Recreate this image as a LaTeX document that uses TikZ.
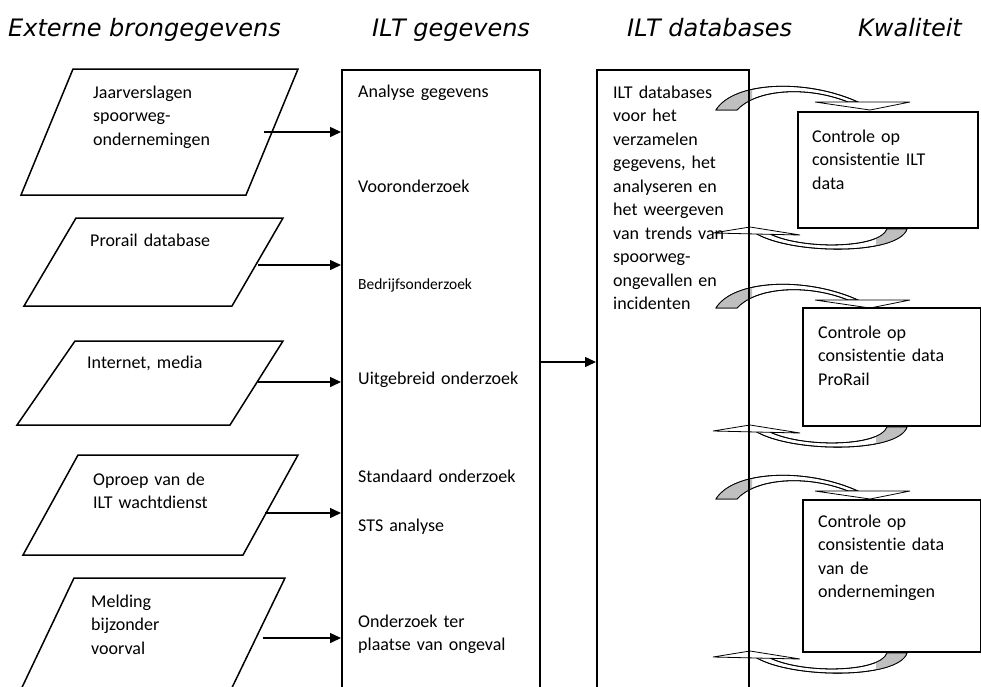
\documentclass[tikz,border=0pt]{standalone}
\usepackage{fontspec}
\setmainfont{Carlito}[Ligatures=NoCommon,WordSpace=0.85]
\newfontfamily\titlefont{DejaVu Sans}
\usetikzlibrary{arrows.meta}
\newcommand\qtoparrow[1]{%
\begin{scope}[shift={(0,#1)}]
  \path[ribbon] (716,110) .. controls (733,82) and (805,78) .. (858,102) -- (848,102) .. controls (805,85) and (755,90) .. (737,110) -- cycle;
  \begin{scope}
    \clip (700,70) rectangle (752,115);
    \fill[ribbongray] (716,110) .. controls (733,82) and (805,78) .. (858,102) -- (848,102) .. controls (805,85) and (755,90) .. (737,110) -- cycle;
  \end{scope}
  \draw[ribbonline] (716,110) .. controls (733,82) and (805,78) .. (858,102) -- (848,102) .. controls (805,85) and (755,90) .. (737,110) -- cycle;
  \draw[ribbon] (815,102) -- (910,102) -- (870,110) -- cycle;
\end{scope}}
\newcommand\qbotarrow[1]{%
\begin{scope}[shift={(0,#1)}]
  \path[ribbon] (907,229) .. controls (898,256) and (785,255) .. (752,231) -- (768,233) .. controls (800,250) and (880,249) .. (887,229) -- cycle;
  \begin{scope}
    \clip (876,220) rectangle (915,260);
    \fill[ribbongray] (907,229) .. controls (898,256) and (785,255) .. (752,231) -- (768,233) .. controls (800,250) and (880,249) .. (887,229) -- cycle;
  \end{scope}
  \draw[ribbonline] (907,229) .. controls (898,256) and (785,255) .. (752,231) -- (768,233) .. controls (800,250) and (880,249) .. (887,229) -- cycle;
  \draw[ribbon] (713,233) -- (750,227) -- (800,235) -- cycle;
\end{scope}}
\begin{document}
\begin{tikzpicture}[x=1pt,y=-1pt,
  shapeline/.style={draw=black,line width=1.5pt},
  txt/.style={anchor=base west,inner sep=0pt,font=\fontsize{18}{23.5}\selectfont,align=left,text width=230pt},
  smalltxt/.style={anchor=base west,inner sep=0pt,font=\fontsize{15.5}{20}\selectfont},
  title/.style={anchor=base west,inner sep=0pt,font=\titlefont\itshape\fontsize{24}{28}\selectfont},
  flow/.style={line width=1.5pt,-{Triangle[length=11pt,width=10pt]}},
  ribbon/.style={draw=black,line width=0.8pt,fill=white},
  ribbonline/.style={draw=black,line width=0.8pt},
  ribbongray/.style={fill=black!25},
  colbox/.style={shapeline,rectangle,inner sep=0pt,anchor=north west},
]
\useasboundingbox (0,0) rectangle (981,686);
\clip (0,0) rectangle (981,686);

% titles
\node[title] (t1) at (8,36) {Externe brongegevens};
\node[title] (t2) at (372,36) {ILT gegevens};
\node[title] (t3) at (627,36) {ILT databases};
\node[title] (t4) at (858,36) {Kwaliteit};

% source parallelograms
\draw[shapeline] (73,69) -- (298,69) -- (246,195) -- (21,195) -- cycle;
\draw[shapeline] (76,218) -- (283,218) -- (232,306) -- (24,306) -- cycle;
\draw[shapeline] (75,341) -- (283,341) -- (230,425) -- (17,425) -- cycle;
\draw[shapeline] (78,455) -- (298,455) -- (243,555) -- (23,555) -- cycle;
\draw[shapeline] (74,578) -- (285,578) -- (226,700) -- (16,700) -- cycle;

\node[txt] (p1) at (93,98) {Jaarverslagen\\spoorweg-\\ondernemingen};
\node[txt] (p2) at (90,246) {Prorail database};
\node[txt] (p3) at (87,368) {Internet, media};
\node[txt] (p4) at (93,485) {Oproep van de\\ILT wachtdienst};
\node[txt] (p5) at (91,607) {Melding\\bijzonder\\voorval};

% curved quality arrows (behind the boxes)
\qtoparrow{0}
\qbotarrow{0}
\qtoparrow{198}
\qbotarrow{198}
\qtoparrow{389}
\qbotarrow{424}

% columns
\node[colbox,minimum width=198pt,minimum height=640pt] (ilt) at (341,69) {};
\node[colbox,minimum width=152pt,minimum height=640pt] (db) at (596,69) {};

% quality boxes
\node[colbox,minimum width=180pt,minimum height=116pt] (q1) at (797,111) {};
\node[colbox,minimum width=178pt,minimum height=118pt] (q2) at (802,307) {};
\node[colbox,minimum width=178pt,minimum height=152pt] (q3) at (802,499) {};

% flow arrows
\coordinate (s1) at (264,132);
\coordinate (s2) at (258,265);
\coordinate (s3) at (258,382);
\coordinate (s4) at (265,513);
\coordinate (s5) at (263,638);
\coordinate (s6) at (539,362);
\draw[flow] (s1) -- (s1 -| ilt.west);
\draw[flow] (s2) -- (s2 -| ilt.west);
\draw[flow] (s3) -- (s3 -| ilt.west);
\draw[flow] (s4) -- (s4 -| ilt.west);
\draw[flow] (s5) -- (s5 -| ilt.west);
\draw[flow] (s6) -- (s6 -| db.west);

% ILT gegevens texts
\node[txt] (g1) at (358,97) {Analyse gegevens};
\node[txt] (g2) at (358,192) {Vooronderzoek};
\node[smalltxt] (g3) at (358,289) {Bedrijfsonderzoek};
\node[txt] (g4) at (358,384) {Uitgebreid onderzoek};
\node[txt] (g5) at (358,482) {Standaard onderzoek};
\node[txt] (g6) at (358,531) {STS analyse};
\node[txt] (g7) at (358,627) {Onderzoek ter\\plaatse van ongeval};

% ILT databases text
\node[txt] (d1) at (613,98) {ILT databases\\voor het\\verzamelen\\gegevens, het\\analyseren en\\het weergeven\\van trends van\\spoorweg-\\ongevallen en\\incidenten};

% quality texts
\node[txt] (k1) at (812,142) {Controle op\\consistentie ILT\\data};
\node[txt] (k2) at (818,338) {Controle op\\consistentie data\\ProRail};
\node[txt] (k3) at (818,527) {Controle op\\consistentie data\\van de\\ondernemingen};
\end{tikzpicture}
\end{document}
